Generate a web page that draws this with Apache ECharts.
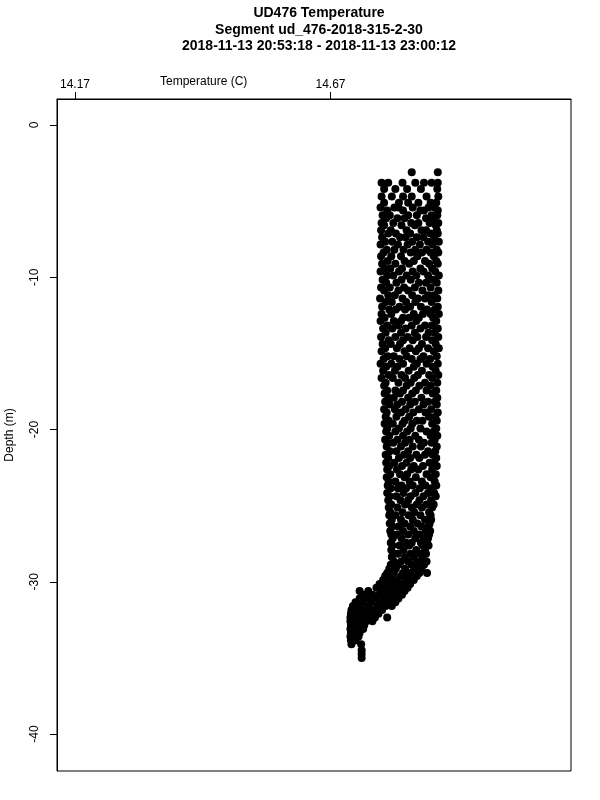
<!DOCTYPE html>
<html>
<head>
<meta charset="utf-8">
<script src="https://cdn.jsdelivr.net/npm/echarts@6/dist/echarts.min.js"></script>
<style>html,body{margin:0;padding:0;background:#fff}#c{width:600px;height:800px}</style>
</head>
<body>
<div id="c"></div>
<script>
const titleLines = ["UD476 Temperature", "Segment ud_476-2018-315-2-30", "2018-11-13 20:53:18 - 2018-11-13 23:00:12"];
const xTicks = [14.17, 14.67];
const yTicks = [0, -10, -20, -30, -40];
const xRange = [14.1348, 15.1407];
const yRange = [-42.43, 1.708];

const depthRows = [
-3.1,-3.8,-4.2,-4.7,-5.1,
-5.42,-5.61,-5.93,-6.12,-6.44,-6.58,-6.91,-7.13,-7.38,-7.67,-7.85,-8.19,-8.37,-8.62,-8.94,
-9.11,-9.43,-9.62,-9.89,-10.17,-10.36,-10.68,-10.87,-11.18,-11.39,-11.63,-11.94,-12.12,-12.41,-12.66,-12.88,
-13.17,-13.36,-13.64,-13.92,-14.13,-14.38,-14.67,-14.86,-15.19,-15.37,-15.68,-15.88,-16.14,-16.42,-16.61,-16.93,
-17.12,-17.44,-17.63,-17.91,-18.18,-18.36,-18.67,-18.88,-19.16,-19.43,-19.62,-19.94,-20.13,-20.41,-20.68,-20.87,
-21.12,-21.43,-21.66,-21.87,-22.18,-22.39,-22.62,-22.94,-23.13,-23.41,-23.67,-23.86,-24.17,-24.38,-24.64,-24.93,
-25.12,-25.44,-25.63,-25.92,-26.18,-26.37,-26.66,-26.89,-27.14,-27.43,-27.62,-27.91,-28.16,-28.38,-28.67,-28.89,
-29.14,-29.42,-29.63,-29.88,
-30.15,-30.4,-30.6,-30.85,-31.1,-31.35,-31.6,-31.85,-32.1,-32.35,-32.6,-32.85,-33.1,-33.35,-33.6,-33.85,
-34.1,-34.5,-34.75,-35.0
];
const tempRows = [
[14.829,14.880],
[14.770,14.783,14.811,14.836,14.853,14.868,14.880],
[14.775,14.797,14.820,14.847,14.879],
[14.770,14.790,14.812,14.829,14.858,14.881],
[14.775,14.804,14.822,14.842,14.866,14.877],
[14.768,14.795,14.803,14.831,14.862,14.874],
[14.781,14.812,14.846,14.853,14.880],
[14.772,14.786,14.822,14.839,14.868,14.879],
[14.779,14.801,14.815,14.857,14.871],
[14.770,14.793,14.828,14.842,14.864,14.881],
[14.775,14.809,14.835,14.876],
[14.769,14.788,14.819,14.848,14.857,14.878],
[14.783,14.798,14.826,14.866,14.880],
[14.771,14.806,14.817,14.839,14.852,14.873],
[14.777,14.791,14.830,14.861,14.882],
[14.768,14.802,14.821,14.845,14.870],
[14.780,14.795,14.813,14.836,14.858,14.878],
[14.774,14.827,14.849,14.866,14.881],
[14.769,14.789,14.808,14.840,14.872],
[14.782,14.815,14.833,14.855,14.877],
[14.771,14.797,14.824,14.863,14.880],
[14.776,14.787,14.810,14.846,14.869],
[14.768,14.804,14.831,14.852,14.875],
[14.781,14.793,14.819,14.838,14.861,14.882],
[14.772,14.809,14.827,14.870],
[14.779,14.799,14.843,14.857,14.878],
[14.769,14.786,14.814,14.835,14.866],
[14.775,14.803,14.822,14.850,14.881],
[14.783,14.796,14.830,14.861,14.873],
[14.767,14.811,14.841,14.855,14.879],
[14.778,14.790,14.818,14.836,14.868],
[14.771,14.805,14.826,14.847,14.880],
[14.785,14.798,14.816,14.859,14.874],
[14.770,14.789,14.833,14.851,14.866,14.882],
[14.776,14.812,14.824,14.843,14.871],
[14.768,14.794,14.808,14.838,14.877],
[14.781,14.803,14.829,14.855,14.868],
[14.773,14.791,14.817,14.846,14.880],
[14.778,14.808,14.835,14.862,14.874],
[14.769,14.797,14.821,14.840,14.857,14.881],
[14.784,14.812,14.831,14.869],
[14.772,14.788,14.806,14.849,14.876],
[14.777,14.800,14.825,14.843,14.861,14.882],
[14.770,14.815,14.837,14.872],
[14.782,14.794,14.819,14.852,14.878],
[14.774,14.805,14.829,14.846,14.865],
[14.768,14.789,14.812,14.839,14.858,14.880],
[14.779,14.801,14.833,14.870],
[14.773,14.796,14.823,14.849,14.876],
[14.784,14.809,14.841,14.863,14.881],
[14.770,14.792,14.816,14.834,14.869],
[14.778,14.803,14.827,14.855,14.879],
[14.775,14.819,14.844,14.866],
[14.781,14.797,14.812,14.837,14.858,14.877],
[14.776,14.806,14.830,14.870],
[14.783,14.794,14.822,14.848,14.879],
[14.777,14.810,14.835,14.861,14.874],
[14.786,14.801,14.826,14.852,14.878],
[14.775,14.796,14.817,14.843,14.867],
[14.780,14.808,14.832,14.856,14.880],
[14.778,14.799,14.824,14.863,14.875],
[14.784,14.815,14.839,14.850,14.878],
[14.776,14.792,14.811,14.830,14.869],
[14.781,14.804,14.827,14.846,14.877],
[14.779,14.797,14.820,14.858,14.872],
[14.785,14.812,14.836,14.866,14.879],
[14.777,14.801,14.825,14.843,14.874],
[14.782,14.793,14.816,14.853,14.868],
[14.780,14.808,14.831,14.847,14.878],
[14.786,14.799,14.822,14.861,14.875],
[14.778,14.814,14.838,14.855,14.870],
[14.783,14.804,14.826,14.844,14.877],
[14.779,14.795,14.819,14.864,14.873],
[14.785,14.810,14.833,14.851,14.878],
[14.781,14.800,14.828,14.842,14.869],
[14.787,14.806,14.820,14.858,14.876],
[14.780,14.815,14.837,14.866],
[14.784,14.797,14.825,14.849,14.874],
[14.782,14.809,14.831,14.856,14.877],
[14.788,14.802,14.818,14.845,14.868],
[14.781,14.813,14.836,14.861,14.873],
[14.786,14.799,14.827,14.852,14.876],
[14.783,14.807,14.822,14.844,14.867],
[14.789,14.816,14.839,14.858,14.872],
[14.784,14.801,14.829,14.849,14.869],
[14.787,14.811,14.834,14.863],
[14.785,14.797,14.823,14.846,14.866],
[14.790,14.808,14.831,14.855,14.867],
[14.786,14.815,14.840,14.864],
[14.791,14.803,14.826,14.848,14.862],
[14.787,14.812,14.833,14.857,14.865],
[14.789,14.800,14.822,14.844,14.863],
[14.792,14.809,14.836,14.853,14.861],
[14.788,14.818,14.829,14.847,14.859],
[14.791,14.805,14.824,14.851,14.862],
[14.789,14.813,14.838,14.855],
[14.793,14.802,14.827,14.846,14.857],
[14.790,14.816,14.833,14.850],
[14.794,14.808,14.822,14.841,14.858],
[14.788,14.803,14.829,14.837,14.853],
[14.785,14.798,14.816,14.834,14.848],
[14.781,14.794,14.812,14.826,14.844,14.859],
[14.777,14.790,14.808,14.822,14.839],
[14.773,14.787,14.801,14.818,14.833],
[14.766,14.782,14.798,14.812,14.826],
[14.760,14.777,14.792,14.806,14.821],
[14.727,14.744,14.770,14.786,14.800,14.815],
[14.735,14.752,14.765,14.781,14.795,14.810],
[14.727,14.742,14.758,14.775,14.790,14.803],
[14.719,14.733,14.750,14.768,14.784,14.797],
[14.714,14.729,14.745,14.762,14.778,14.790],
[14.711,14.724,14.740,14.756,14.771],
[14.710,14.721,14.735,14.750,14.764],
[14.709,14.719,14.731,14.745,14.757,14.781],
[14.709,14.717,14.728,14.740,14.752],
[14.710,14.718,14.726,14.736],
[14.709,14.716,14.724,14.734],
[14.710,14.718,14.727],
[14.709,14.716,14.725],
[14.710,14.719],
[14.711,14.730],
[14.731],
[14.731],
[14.731]
];

const points = [];
depthRows.forEach((d, i) => tempRows[i].forEach(t => points.push([t, d])));

const chart = echarts.init(document.getElementById('c'), null, {renderer: 'canvas'});
const FONT = 'Liberation Sans, Arial, Helvetica, sans-serif';
chart.setOption({
  animation: false,
  backgroundColor: '#fff',
  title: {
    text: titleLines.join('\n'),
    left: 314, top: 0, textAlign: 'center',
    textStyle: {fontFamily: FONT, fontSize: 14, fontWeight: 'bold', color: '#000', lineHeight: 16.5}
  },
  grid: {left: 57, right: 29, top: 99, bottom: 29, containLabel: false, outerBoundsMode: 'none',
         show: true, borderColor: '#000', borderWidth: 1, backgroundColor: 'transparent'},
  xAxis: {
    type: 'value', position: 'top', min: xRange[0], max: xRange[1],
    axisLine: {show: true, onZero: false, lineStyle: {color: '#000', width: 1}}, splitLine: {show: false},
    axisTick: {show: true, length: 7, inside: false, customValues: xTicks, lineStyle: {color: '#000', width: 1}},
    axisLabel: {show: true, customValues: xTicks, margin: 8, color: '#000', fontFamily: FONT, fontSize: 12, formatter: v => v.toFixed(2)}
  },
  yAxis: {
    type: 'value', position: 'left', min: yRange[0], max: yRange[1],
    name: 'Depth (m)', nameLocation: 'middle', nameGap: 41, nameRotate: 90,
    nameTextStyle: {fontFamily: FONT, fontSize: 12, color: '#000'},
    axisLine: {show: true, onZero: false, lineStyle: {color: '#000', width: 1}}, splitLine: {show: false},
    axisTick: {show: true, length: 7, inside: false, customValues: yTicks, lineStyle: {color: '#000', width: 1}},
    axisLabel: {show: true, customValues: yTicks, rotate: 90, margin: 16, color: '#000', fontFamily: FONT, fontSize: 12, formatter: v => String(v)}
  },
  graphic: [{
    type: 'text', left: 160, top: 76,
    style: {text: 'Temperature (C)', fill: '#000', font: '12px ' + FONT}
  }],
  series: [{
    type: 'scatter', data: points, symbol: 'circle', symbolSize: 8,
    itemStyle: {color: '#000', opacity: 1}, silent: true
  }]
});
</script>
</body>
</html>
